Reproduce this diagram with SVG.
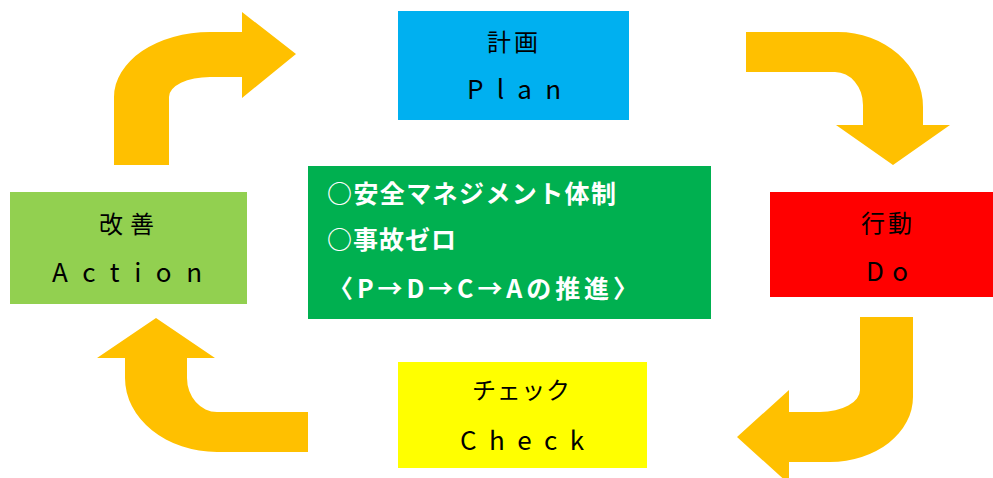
<svg xmlns="http://www.w3.org/2000/svg" width="993" height="478" viewBox="0 0 993 478">
<style>
.arrow{fill:#FFC000;stroke:none}
.jp{font-family:"Noto Sans CJK JP","Noto Sans",sans-serif;font-size:24px;fill:#000}
.en{font-family:"Noto Sans CJK JP","DejaVu Sans",sans-serif;font-size:26px;fill:#000}
.main{font-family:"Noto Sans CJK JP","Noto Sans",sans-serif;font-size:25px;font-weight:bold;fill:#fff}
</style>
<rect width="993" height="478" fill="#fff"/>
<g id="connectors">
<path class="arrow" d="M114,165 L114,97 A96,65 0 0 1 210,32 L242,32 L242,12 L296,54 L242,98 L242,77 L210,77 A41,20 0 0 0 169,97 L169,165 Z"/>
<path class="arrow" d="M746,32 L838,32 A85,75 0 0 1 923,107 L923,125 L950,125 L893,165 L836,125 L863,125 L863,105 A28,33 0 0 0 835,72 L746,72 Z"/>
<path class="arrow" d="M860,317 L913,317 L913,397 A83,65 0 0 1 830,462 L789,462 L789,484 L737,437 L789,390 L789,412 L820,412 A40,22 0 0 0 860,390 Z"/>
<path class="arrow" d="M156,318 L215,358 L187,358 L187,378 A30,34 0 0 0 217,412 L308,412 L308,452 L217,452 A92,74 0 0 1 125,378 L125,358 L97,358 Z"/>
</g>
<g id="plan">
<rect x="398" y="11" width="231" height="109" fill="#00B0F0"/>
<text class="jp" x="487" y="50.5" textLength="51" lengthAdjust="spacing">計画</text>
<text class="en" x="467" y="99" textLength="94" lengthAdjust="spacing">Plan</text>
</g>
<g id="do">
<rect x="770" y="192" width="223" height="105" fill="#FF0000"/>
<text class="jp" x="861" y="232" textLength="51" lengthAdjust="spacing">行動</text>
<text class="en" x="866" y="281" textLength="42" lengthAdjust="spacing">Do</text>
</g>
<g id="check">
<rect x="398" y="362" width="249" height="106" fill="#FFFF00"/>
<text class="jp" x="472" y="399" textLength="98" lengthAdjust="spacing">チェック</text>
<text class="en" x="460" y="450" textLength="124" lengthAdjust="spacing">Check</text>
</g>
<g id="action">
<rect x="10" y="192" width="237" height="112" fill="#92D050"/>
<text class="jp" x="99" y="233" textLength="55" lengthAdjust="spacing">改善</text>
<text class="en" x="52" y="282" textLength="150" lengthAdjust="spacing">Action</text>
</g>
<g id="center">
<rect x="308" y="166" width="403" height="153" fill="#00B050"/>
<text class="main" x="327" y="203" textLength="289" lengthAdjust="spacing">○安全マネジメント体制</text>
<text class="main" x="327" y="249" textLength="129" lengthAdjust="spacing">○事故ゼロ</text>
<text class="main" x="328" y="298" textLength="310" lengthAdjust="spacing">〈P→D→C→Aの推進〉</text>
</g>
</svg>
